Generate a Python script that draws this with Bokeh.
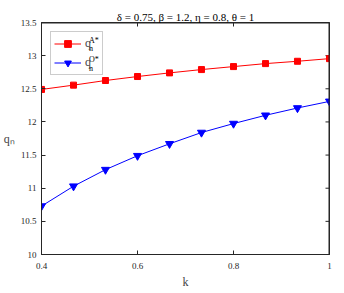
import math
from bokeh.plotting import figure
from bokeh.models import (Range1d, LinearAxis, FixedTicker, Legend, LegendItem, Label, Span)
from bokeh.embed import file_html
from bokeh.resources import INLINE

k = [0.4, 0.4667, 0.5333, 0.6, 0.6667, 0.7333, 0.8, 0.8667, 0.9333, 1.0]
qA = [12.49, 12.555, 12.625, 12.685, 12.74, 12.79, 12.835, 12.88, 12.915, 12.955]
qO = [10.73, 11.03, 11.28, 11.49, 11.67, 11.84, 11.975, 12.10, 12.21, 12.31]
x_ticks = [0.4, 0.6, 0.8, 1.0]
y_ticks = [10, 10.5, 11, 11.5, 12, 12.5, 13, 13.5]
title_text = "δ = 0.75, β = 1.2, η = 0.8, θ = 1"
x_lo, x_hi = 0.4, 1.0
y_lo, y_hi = 10, 13.5

FONT = "Liberation Serif"
AXC = "#262626"

p = figure(width=344, height=293, output_backend="svg", toolbar_location=None,
           x_range=Range1d(x_lo, x_hi), y_range=Range1d(y_lo, y_hi),
           min_border_left=40, min_border_right=15, min_border_top=22, min_border_bottom=39,
           x_axis_location=None, y_axis_location=None, title=title_text)
p.grid.visible = False
p.outline_line_color = AXC
p.outline_line_alpha = 1
p.background_fill_color = "white"
p.border_fill_color = "white"
p.title.text_font = FONT
p.title.text_font_size = "11px"
p.title.text_font_style = "normal"
p.title.align = "center"
p.title.text_color = "#000000"
p.title.standoff = 0

def style(ax):
    ax.axis_line_color = AXC
    ax.axis_line_width = 1
    ax.major_tick_in = 4
    ax.major_tick_out = 0
    ax.minor_tick_line_color = None
    ax.major_tick_line_color = AXC
    ax.major_label_text_font = FONT
    ax.major_label_text_font_size = "9px"
    ax.major_label_text_color = "#262626"

xb = LinearAxis(ticker=FixedTicker(ticks=x_ticks))
style(xb)
xb.major_label_standoff = 8
xb.major_label_overrides = {1.0: "1"}
xb.axis_label = "k"
xb.axis_label_text_font = FONT
xb.axis_label_text_font_style = "normal"
xb.axis_label_text_font_size = "12px"
xb.axis_label_standoff = 3
p.add_layout(xb, "below")

yl = LinearAxis(ticker=FixedTicker(ticks=y_ticks))
style(yl)
yl.major_label_standoff = 5
yl.major_label_overrides = {10: "10", 11: "11", 12: "12", 13: "13"}
yl.axis_label = "qₙ"
yl.axis_label_text_font = FONT
yl.axis_label_text_font_style = "normal"
yl.axis_label_text_font_size = "12px"
yl.axis_label_standoff = 3
try:
    yl.axis_label_orientation = "horizontal"
except Exception:
    pass
p.add_layout(yl, "left")

# box edges on top and right
p.add_layout(Span(location=y_hi, dimension="width", line_color=AXC, line_width=2))
p.add_layout(Span(location=x_hi, dimension="height", line_color=AXC, line_width=2))

# inward ticks on top and right edges (half of each dash is clipped by the frame)
p.scatter(x_ticks, [y_hi] * len(x_ticks), marker="dash", angle=math.pi / 2, size=8,
          line_color=AXC, line_width=1)
p.scatter([x_hi] * len(y_ticks), y_ticks, marker="dash", size=8,
          line_color=AXC, line_width=1)

lA = p.line(k, qA, color="#ff0000", line_width=1)
mA = p.scatter(k, qA, marker="square", size=6, color="#ff0000")
lO = p.line(k, qO, color="#0000ff", line_width=1)
mO = p.scatter(k, qO, marker="inverted_triangle", size=8, color="#0000ff")

def lab(x, y, t, size):
    p.add_layout(Label(x=x, y=y, x_units="screen", y_units="screen", text=t,
                       text_font=FONT, text_font_size=size, text_align="left",
                       text_baseline="middle", text_color="#000000"))

# legend sub/superscripts (frame-relative screen units), added before the legend
lab(47.5, 214.5, "A*", "8px")
lab(47.5, 206, "n", "8px")
lab(47.5, 195.5, "O*", "8px")
lab(47.5, 186.5, "n", "8px")

leg = Legend(items=[LegendItem(label="q", renderers=[lA, mA]),
                    LegendItem(label="q", renderers=[lO, mO])],
             location="top_left", margin=9, padding=3, spacing=2,
             glyph_width=27, glyph_height=17, label_height=17, label_width=14,
             label_standoff=4, label_text_font=FONT, label_text_font_size="12px",
             border_line_color="#999999", border_line_width=1,
             background_fill_alpha=0)
p.add_layout(leg)

open("out.html", "w").write(file_html(p, INLINE))
